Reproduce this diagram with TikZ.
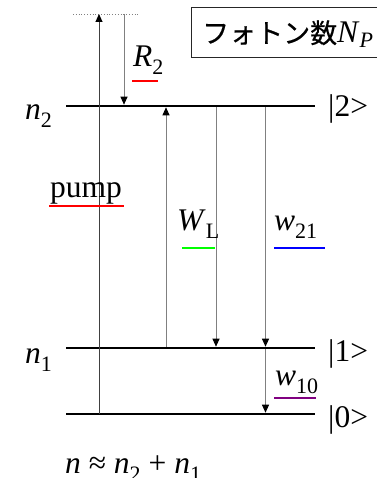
\documentclass[tikz,border=0pt]{standalone}
\usepackage{fontspec}
\setmainfont{Liberation Serif}
\newfontfamily\jpfont[FakeBold=0.5]{Noto Sans CJK JP}
\usetikzlibrary{arrows.meta}
\newcommand\sbs[1]{\raisebox{-8pt}{\fontsize{22}{22}\selectfont #1}}
\definecolor{ured}{HTML}{FF0000}
\definecolor{ugreen}{HTML}{00FF00}
\definecolor{ublue}{HTML}{0000FF}
\definecolor{upurple}{HTML}{800080}
\begin{document}
\begin{tikzpicture}[x=1pt,y=-1pt,
  level/.style={line width=2.6pt, black},
  trans/.style={draw=black!50, line width=1pt, -{Triangle[length=8pt,width=7pt,color=black]}},
  lbl/.style={anchor=base west, inner sep=0pt, font=\fontsize{31.5}{31.5}\selectfont},
  uline/.style={line width=2pt}]
\useasboundingbox (0,0) rectangle (376,478);
% levels
\coordinate (a2) at (66,106);   \coordinate (b2) at (315,106);
\coordinate (a1) at (66,348);   \coordinate (b1) at (315,348);
\coordinate (a0) at (66,414); \coordinate (b0) at (315,414);
\draw[level] (a2) -- (b2);
\draw[level] (a1) -- (b1);
\draw[level] (a0) -- (b0);
% top dotted level
\coordinate (d1) at (73,14); \coordinate (d2) at (140,14);
\draw[dotted, black!50, line width=0.8pt] (d1) -- (d2);
% pump
\coordinate (pb) at (99,414); \coordinate (pt) at (99,14);
\draw[trans, draw=black!75] (pb) -- (pt);
% R2
\coordinate (rs) at (124,14); \coordinate (re) at (124,104.7);
\draw[trans] (rs) -- (re);
% W_L
\coordinate (ws) at (166,346.7); \coordinate (we) at (166,107.3);
\draw[trans] (ws) -- (we);
% stimulated emission
\coordinate (ss) at (216,107.3); \coordinate (se) at (216,346.7);
\draw[trans] (ss) -- (se);
% w21
\coordinate (ts) at (265.5,107.3); \coordinate (te) at (265.5,346.7);
\draw[trans] (ts) -- (te);
% w10
\coordinate (us) at (265.5,349.3); \coordinate (ue) at (265.5,412.7);
\draw[trans] (us) -- (ue);
% box
\node (box) [draw=black!85, line width=0.8pt, anchor=north west, minimum width=230pt, minimum height=49.5pt, inner sep=0pt] at (190.5,7.5) {};
\node (np) [lbl] at (202,43) {{\jpfont\fontsize{27}{27}\selectfont フォトン数}\textit{N}\raisebox{-5pt}{\fontsize{22}{22}\selectfont\textit{P}}};
% labels
\node (ln2) [lbl] at (25,120) {\textit{n}\sbs{2}};
\node (ln1) [lbl] at (25,363) {\textit{n}\sbs{1}};
\node (k2) [lbl] at (328,117) {|2>};
\node (k1) [lbl] at (328,361) {|1>};
\node (k0) [lbl] at (328,427) {|0>};
\node (lr2) [lbl] at (133,67) {\textit{R}\sbs{2}};
\node (lpump) [lbl] at (50,197) {pump};
\node (lwl) [lbl] at (177,230) {\textit{W}\sbs{L}};
\node (lw21) [lbl] at (274,230) {\textit{w}\sbs{21}};
\node (lw10) [lbl] at (275,385) {\textit{w}\sbs{10}};
\node (eq) [lbl] at (65,473) {\textit{n} ≈ \textit{n}\sbs{2} + \textit{n}\sbs{1}};
% underlines
\draw[uline, ured] (132,80.7) -- (158,80.7);
\draw[uline, ured] (49,206) -- (124,206);
\draw[uline, ugreen] (182,247.7) -- (215,247.7);
\draw[uline, ublue] (274,247.7) -- (325,247.7);
\draw[uline, upurple] (274,397.7) -- (316,397.7);
\end{tikzpicture}
\end{document}
